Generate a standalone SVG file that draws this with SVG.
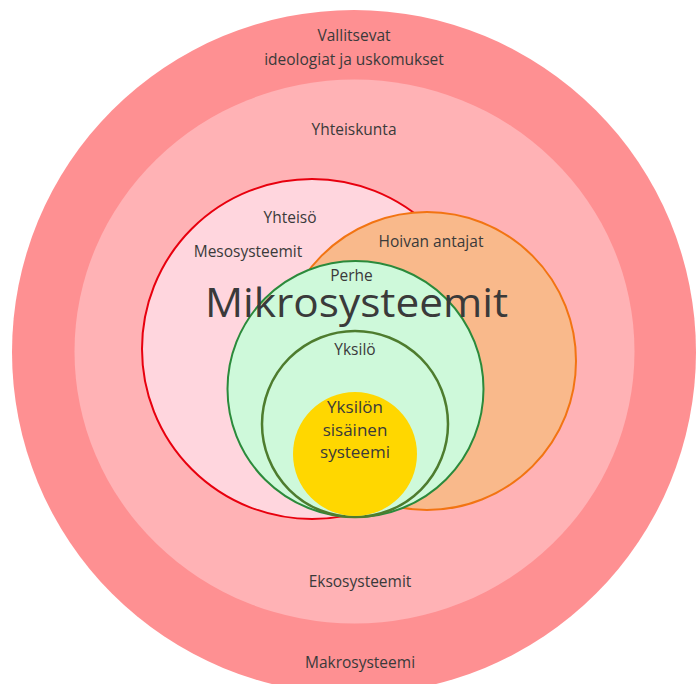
<svg xmlns="http://www.w3.org/2000/svg" width="697" height="684" viewBox="0 0 697 684">
<style>
text{font-family:"Open Sans","Liberation Sans",sans-serif;fill:#3a3a3a;text-anchor:middle;font-size:15.5px}
.big{font-size:41px}
.mid{font-size:17px}
</style>
<rect width="697" height="684" fill="#ffffff"/>
<g id="makro">
<circle cx="354" cy="352" r="342" fill="#FE9092"/>
<text x="354" y="41">Vallitsevat</text>
<text x="354" y="65">ideologiat ja uskomukset</text>
<text x="360" y="668">Makrosysteemi</text>
</g>
<g id="ekso">
<ellipse cx="354.5" cy="351.5" rx="280" ry="272" fill="#FFB2B5"/>
<text x="354" y="135">Yhteiskunta</text>
<text x="360" y="587">Eksosysteemit</text>
</g>
<g id="meso">
<circle cx="312" cy="349" r="170" fill="#FFD6DE" stroke="#E8000E" stroke-width="2"/>
<text x="290" y="223">Yhteisö</text>
<text x="248" y="257">Mesosysteemit</text>
</g>
<g id="hoiva">
<circle cx="427" cy="361" r="149" fill="#F9B98B" stroke="#F27412" stroke-width="2"/>
<text x="431" y="247">Hoivan antajat</text>
</g>
<g id="perhe">
<circle cx="355.5" cy="389" r="128" fill="#CEF9DA" stroke="#2B8A3B" stroke-width="2"/>
<text x="351.5" y="281">Perhe</text>
</g>
<g id="yksilo">
<circle cx="355" cy="424" r="93" fill="#CEF9DA" stroke="#4E7C2E" stroke-width="2.5"/>
<text x="355" y="355">Yksilö</text>
</g>
<g id="sisainen">
<circle cx="355" cy="454" r="62" fill="#FFD700"/>
<text class="mid" x="355" y="413">Yksilön</text>
<text class="mid" x="355" y="436">sisäinen</text>
<text class="mid" x="355" y="458">systeemi</text>
</g>
<g id="mikro">
<text class="big" x="356.5" y="317" textLength="303" lengthAdjust="spacingAndGlyphs">Mikrosysteemit</text>
</g>
<g id="connectors"/>
</svg>
